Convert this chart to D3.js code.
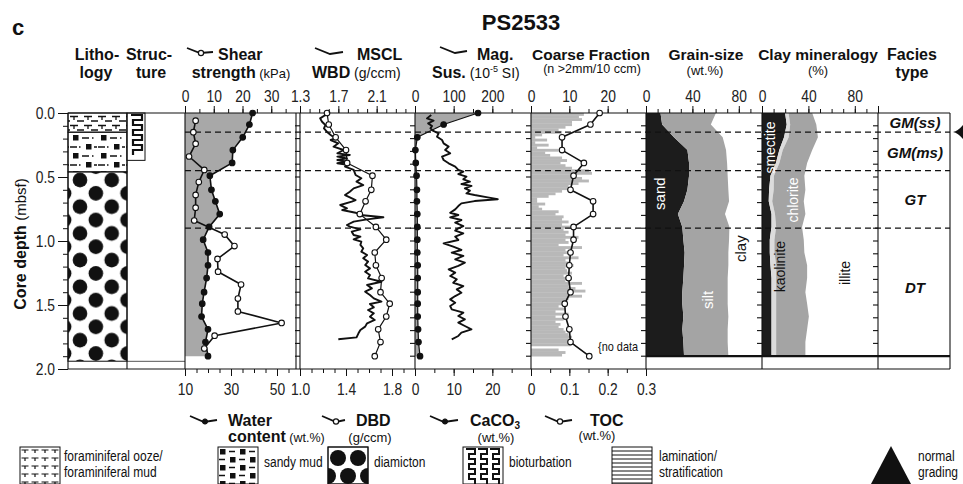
<!DOCTYPE html>
<html><head><meta charset="utf-8">
<script src="https://cdn.jsdelivr.net/npm/d3@7"></script>
<style>body{margin:0;background:#fff}svg{display:block}</style>
</head><body>
<svg id="c" width="963" height="484"></svg>
<script>
// ---------------- DATA ----------------
const sampleDepth = [0.00,0.09,0.19,0.29,0.39,0.49,0.60,0.69,0.79,0.89,0.99,1.09,1.19,1.29,1.40,1.49,1.59,1.69,1.79,1.90];
const waterContent = [39.4,38.0,35.1,30.8,30.5,20.8,21.5,23.2,25.1,20.5,17.9,20.0,20.0,19.4,18.3,17.5,17.2,20.0,18.9,20.0];
const dbd = [1.235,1.25,1.31,1.40,1.41,1.63,1.62,1.57,1.52,1.66,1.75,1.65,1.66,1.71,1.70,1.78,1.75,1.68,1.70,1.65];
const caco3 = [16.3,7.4,0.6,0.1,0.2,0.4,0.5,0.5,0.6,0.6,0.6,0.6,0.7,0.7,0.7,0.7,0.7,0.8,0.9,1.3];
const toc = [0.179,0.155,0.081,0.081,0.138,0.111,0.103,0.162,0.162,0.111,0.111,0.103,0.100,0.098,0.103,0.088,0.090,0.100,0.103,0.152];
const sand = [12.5,13.9,24.1,35.7,37.1,37.1,35.7,32.8,27.5,31.3,32.2,33.3,32.8,32.2,31.3,31.3,32.2,31.3,32.2,32.8];
const silt = [47.8,42.0,42.0,33.3,32.8,33.3,35.3,38.8,40.6,40.6,39.4,37.7,38.2,38.2,39.1,39.1,38.8,39.1,38.2,38.2];
const smectite = [19.9,21.3,19.0,14.9,12.0,7.3,6.1,5.8,8.2,8.2,6.7,6.7,7.3,8.2,8.2,8.2,8.2,8.2,8.2,8.2];
const kaolinite = [3,3,4,3,3,3,4,3,3,4,4,4,5,4,4,4,4,4,4,4];
const chlorite = [20.4,22.5,25.2,25.4,23.9,26.2,27.3,27.2,26.2,22.3,25.3,25.8,26.6,26.7,25.2,26.7,28.2,26.7,25.2,25.2];

const shearDepth = [0.06,0.15,0.24,0.34,0.445,0.54,0.64,0.74,0.84,0.95,1.04,1.14,1.24,1.34,1.45,1.55,1.64,1.74,1.84];
const shear = [3.7,2.9,3.7,1.4,6.7,4.8,3.7,3.7,3.2,13.8,17.2,11.3,11.5,19.5,18.4,18.4,33.6,10.3,6.7];

const wbdDepth = [0.016,0.042,0.068,0.094,0.120,0.146,0.172,0.198,0.211,0.237,0.263,0.289,0.315,0.328,0.341,0.354,0.367,0.380,0.393,0.406,0.419,0.445,0.484,0.510,0.536,0.563,0.589,0.615,0.641,0.659,0.680,0.693,0.719,0.745,0.758,0.779,0.797,0.815,0.831,0.849,0.875,0.888,0.909,0.927,0.953,0.966,0.987,1.005,1.031,1.057,1.083,1.109,1.135,1.161,1.188,1.214,1.240,1.266,1.292,1.318,1.344,1.370,1.396,1.422,1.448,1.474,1.492,1.518,1.539,1.565,1.591,1.617,1.643,1.669,1.695,1.721,1.753,1.768];
const wbd = [1.565,1.51,1.53,1.565,1.55,1.58,1.62,1.67,1.62,1.70,1.65,1.755,1.69,1.82,1.69,1.79,1.69,1.79,1.69,1.81,1.77,1.86,1.88,1.94,1.89,1.96,1.86,1.82,1.77,1.82,1.88,1.84,1.72,1.79,1.74,1.88,1.93,2.17,2.00,1.86,1.79,1.82,1.93,1.84,1.86,1.93,1.86,1.94,1.93,1.96,1.94,2.00,1.96,2.01,1.98,2.03,1.98,2.03,2.01,2.15,2.00,2.05,1.98,2.03,2.07,2.15,2.03,2.07,2.01,2.07,2.03,2.08,2.00,1.98,1.93,1.91,1.89,1.70];

const magDepth = [0.016,0.042,0.060,0.081,0.102,0.120,0.138,0.159,0.185,0.211,0.237,0.263,0.289,0.315,0.341,0.367,0.393,0.419,0.445,0.458,0.477,0.497,0.518,0.536,0.555,0.570,0.589,0.607,0.628,0.641,0.659,0.674,0.688,0.706,0.727,0.753,0.779,0.797,0.815,0.836,0.857,0.883,0.901,0.919,0.940,0.966,0.992,1.018,1.044,1.070,1.091,1.117,1.143,1.169,1.195,1.221,1.247,1.273,1.299,1.326,1.352,1.378,1.404,1.430,1.456,1.482,1.508,1.534,1.560,1.586,1.612,1.638,1.664,1.690,1.716,1.742,1.768];
const magSus = [42,31,48,34,44,40,46,61,57,70,74,87,78,91,70,74,87,104,112,125,112,133,125,142,120,146,129,142,133,154,188,214,154,120,112,104,91,112,91,120,104,125,112,104,125,104,112,74,99,120,95,125,104,129,112,87,104,91,108,99,125,108,120,104,91,104,91,95,125,112,129,112,129,146,120,112,95];

const coarseStep = 0.02;
const coarse = [13.8,12.5,13.3,10.7,10.7,9.0,7.2,8.1,2.9,1.1,
 4.2,1.1,4.6,1.6,7.2,3.7,5.0,8.1,9.4,7.7,
 9.0,10.7,15.1,15.9,11.6,13.3,15.1,12.4,9.8,10.7,
 8.1,6.4,4.6,1.6,1.6,3.7,2.0,2.9,7.2,6.4,
 8.5,8.1,9.8,8.1,10.7,8.5,9.8,9.0,12.4,9.0,
 9.8,7.2,13.3,9.0,11.1,8.5,12.4,9.0,9.8,11.1,
 9.0,9.4,10.7,8.5,10.7,9.0,13.3,9.8,11.6,14.2,
 10.7,13.3,9.8,9.0,8.5,7.2,9.0,6.4,9.8,6.4,
 8.5,6.4,7.7,7.2,8.5,9.0,9.8,10.7,9.8,9.4,
 10.3,0,7.2,9.0,8.1];

const lithoTop = [0.00,0.15,0.46];
const lithoBase = [0.15,0.46,1.94];
const lithoType = ["foram","sandymud","diamicton"];
const bioturbTop = 0.0, bioturbBase = 0.37;

const faciesBounds = [0.15,0.45,0.90];
const faciesNames = ["GM(ss)","GM(ms)","GT","DT"];
const faciesLabelDepth = [0.078,0.31,0.68,1.37];

const depthLabels = [0.0,0.5,1.0,1.5,2.0];

// ---------------- SETUP ----------------
const svg = d3.select("#c");
const SANS = '"Liberation Sans",Arial,Helvetica,sans-serif';
const NARROW = 0.84;
const NUMFS = 16.5;
const y = d3.scaleLinear().domain([0,2]).range([113,369]);
const edges = [185,300,415,531,646,762,878,950];

const xShear = d3.scaleLinear([0,40],[edges[0],edges[1]]);
const xWater = d3.scaleLinear([10,60],[edges[0],edges[1]]);
const xWBD = d3.scaleLinear([1.3,2.5],[edges[1],edges[2]]);
const xDBD = d3.scaleLinear([1.0,2.0],[edges[1],edges[2]]);
const xMag = d3.scaleLinear([0,300],[edges[2],edges[3]]);
const xCa = d3.scaleLinear([0,30],[edges[2],edges[3]]);
const xCoarse = d3.scaleLinear([0,30],[edges[3],edges[4]]);
const xTOC = d3.scaleLinear([0,0.3],[edges[3],edges[4]]);
const xGrain = d3.scaleLinear([0,100],[edges[4],edges[5]]);
const xClay = d3.scaleLinear([0,100],[edges[5],edges[6]]);

const defs = svg.append("defs");
const pf = defs.append("pattern").attr("id","foram").attr("patternUnits","userSpaceOnUse").attr("x",68).attr("y",114).attr("width",14).attr("height",9);
pf.append("path").attr("d","M2,2.5H10M6,2.5V6M9,7H14M0,7H2").attr("stroke","#111").attr("stroke-width",1.3).attr("fill","none");
const ps = defs.append("pattern").attr("id","sandymud").attr("patternUnits","userSpaceOnUse").attr("x",69).attr("y",133).attr("width",28).attr("height",18);
ps.append("rect").attr("x",4).attr("y",2).attr("width",5.5).attr("height",5.5).attr("fill","#111");
ps.append("rect").attr("x",17).attr("y",11).attr("width",5.5).attr("height",5.5).attr("fill","#111");
ps.append("path").attr("d","M13,5H20M23,5H24.5M1,14H8M10,14H11.5M25,14H28").attr("stroke","#111").attr("stroke-width",1.3);
const pd = defs.append("pattern").attr("id","diamicton").attr("patternUnits","userSpaceOnUse").attr("x",80).attr("y",180).attr("width",31.7).attr("height",26.7);
[[0,0],[31.7,0],[0,26.7],[31.7,26.7],[15.85,13.35]].forEach(c=>pd.append("circle").attr("cx",c[0]).attr("cy",c[1]).attr("r",7.3).attr("fill","#111"));
defs.append("clipPath").attr("id","diamClip").append("rect").attr("x",328).attr("y",447).attr("width",40).attr("height",37);

// ---------------- LITHOLOGY ----------------
lithoTop.forEach((t,i)=>{
  svg.append("rect").attr("x",68).attr("y",y(t)).attr("width",59).attr("height",y(lithoBase[i])-y(t))
    .attr("fill",`url(#${lithoType[i]})`).attr("stroke","#111").attr("stroke-width",1);
});
svg.append("rect").attr("x",127).attr("y",y(bioturbTop)).attr("width",18).attr("height",y(bioturbBase)-y(bioturbTop)).attr("fill","#fff").attr("stroke","#111");
{
  let p = `M131,${y(0)+2}`; let yy=y(0)+2; let right=true;
  while (yy < y(bioturbBase)-6){ p += right?"H142":"H133"; yy+=5; p += `V${yy}`; right=!right; }
  svg.append("path").attr("d",p).attr("fill","none").attr("stroke","#111").attr("stroke-width",2.2);
}
svg.append("line").attr("x1",68).attr("x2",185).attr("y1",y(1.94)).attr("y2",y(1.94)).attr("stroke","#555").attr("stroke-width",1);

// ---------------- FILLS ----------------
const area = d3.area().y(d=>d[2]).x0(d=>d[0]).x1(d=>d[1]);
svg.append("path").attr("d",area(sampleDepth.map((d,i)=>[edges[0],xWater(waterContent[i]),y(d)]))).attr("fill","#a8a8a8");
svg.append("path").attr("d",area(sampleDepth.map((d,i)=>[edges[2],xCa(caco3[i]),y(d)]))).attr("fill","#a8a8a8");
svg.append("g").selectAll("rect").data(coarse).join("rect")
  .attr("x",edges[3]).attr("y",(v,i)=>y(i*coarseStep)).attr("width",v=>xCoarse(v)-edges[3])
  .attr("height",(v,i)=>y((i+1)*coarseStep)-y(i*coarseStep)+0.3).attr("fill","#b8b8b8");

const gsum = sand.map((s,i)=>s+silt[i]);
svg.append("path").attr("d",area(sampleDepth.map((d,i)=>[xGrain(0),xGrain(sand[i]),y(d)]))).attr("fill","#1c1c1c");
svg.append("path").attr("d",area(sampleDepth.map((d,i)=>[xGrain(sand[i]),xGrain(gsum[i]),y(d)]))).attr("fill","#a4a4a4");
const c1 = smectite, c2 = smectite.map((s,i)=>s+kaolinite[i]), c3 = c2.map((s,i)=>s+chlorite[i]);
svg.append("path").attr("d",area(sampleDepth.map((d,i)=>[xClay(0),xClay(c1[i]),y(d)]))).attr("fill","#1c1c1c");
svg.append("path").attr("d",area(sampleDepth.map((d,i)=>[xClay(c1[i]),xClay(c2[i]),y(d)]))).attr("fill","#dcdcdc");
svg.append("path").attr("d",area(sampleDepth.map((d,i)=>[xClay(c2[i]),xClay(c3[i]),y(d)]))).attr("fill","#a4a4a4");

// ---------------- FRAMES ----------------
const fr = svg.append("g").attr("stroke","#111").attr("stroke-width",1.1).attr("fill","none");
fr.append("line").attr("x1",68).attr("x2",950).attr("y1",113).attr("y2",113);
fr.append("line").attr("x1",68).attr("x2",950).attr("y1",369).attr("y2",369);
[68,127,185,296,950].concat(edges.slice(1,7)).forEach(x=>fr.append("line").attr("x1",x).attr("x2",x).attr("y1",113).attr("y2",369));
const dTicks = d3.range(1,20).map(k=>k/10);
edges.slice(1,7).forEach(x=>{
  fr.append("g").selectAll("line").data(dTicks).join("line").attr("x1",x-5).attr("x2",x).attr("y1",d=>y(d)).attr("y2",d=>y(d));
});
svg.append("line").attr("x1",edges[4]).attr("x2",950).attr("y1",y(1.9)).attr("y2",y(1.9)).attr("stroke","#111").attr("stroke-width",2.2);

const ya = svg.append("g").attr("transform","translate(68,0)");
ya.call(d3.axisLeft(y).tickValues(d3.range(0,21).map(k=>k/10)).tickSize(5).tickFormat(""));
ya.append("g").call(d3.axisLeft(y).tickValues(depthLabels).tickSize(10).tickPadding(3).tickFormat(d3.format(".1f")));
ya.selectAll(".domain").remove();
ya.selectAll("line").attr("stroke","#111");
ya.selectAll("text").attr("font-family",SANS).attr("font-size",NUMFS).attr("fill","#222")
  .attr("x",-13/NARROW).attr("transform",`scale(${NARROW},1)`);

svg.append("g").selectAll("line").data(faciesBounds).join("line")
  .attr("x1",edges[0]).attr("x2",950).attr("y1",d=>y(d)).attr("y2",d=>y(d))
  .attr("stroke","#111").attr("stroke-width",1.2).attr("stroke-dasharray","6,4");

// ---------------- CURVES ----------------
function curve(xs, ds, vs, marker, w){
  const pts = ds.map((d,i)=>[xs(vs[i]),y(d)]);
  svg.append("path").attr("d",d3.line()(pts)).attr("fill","none").attr("stroke","#111").attr("stroke-width",w||1.6).attr("stroke-linejoin","round");
  if (marker) svg.append("g").selectAll("circle").data(pts).join("circle").attr("cx",p=>p[0]).attr("cy",p=>p[1]).attr("r",2.8)
    .attr("fill",marker==="open"?"#fff":"#111").attr("stroke","#111").attr("stroke-width",1.1);
}
curve(xWater, sampleDepth, waterContent, "filled");
curve(xShear, shearDepth, shear, "open");
curve(xWBD, wbdDepth, wbd, null, 1.9);
curve(xDBD, sampleDepth, dbd, "open", 1.2);
curve(xMag, magDepth, magSus, null, 1.9);
curve(xCa, sampleDepth, caco3, "filled", 1.2);
curve(xTOC, sampleDepth, toc, "open", 1.6);

// ---------------- AXES ----------------
function styleAxisText(g){
  g.selectAll(".domain").remove();
  g.selectAll("line").attr("stroke","#111");
  g.selectAll("text").attr("font-family",SANS).attr("font-size",NUMFS).attr("fill","#222").attr("transform",`scale(${NARROW},1)`);
}
function topAxis(scale, major, minor, fmt){
  const g = svg.append("g").attr("transform","translate(0,113)");
  g.append("g").call(d3.axisTop(scale).tickValues(minor).tickSize(4).tickFormat(""));
  g.append("g").call(d3.axisTop(scale).tickValues(major).tickSize(7).tickPadding(4.5).tickFormat(fmt));
  styleAxisText(g);
}
function botAxis(scale, major, minor, fmt){
  const g = svg.append("g").attr("transform","translate(0,369)");
  g.append("g").call(d3.axisBottom(scale).tickValues(minor).tickSize(4).tickFormat(""));
  g.append("g").call(d3.axisBottom(scale).tickValues(major).tickSize(7).tickPadding(7).tickFormat(fmt));
  styleAxisText(g);
}
const f0 = d3.format("d"), f1 = d3.format(".1f");
topAxis(xShear,[0,10,20,30],d3.range(0,40,5),f0);
topAxis(xWBD,[1.3,1.7,2.1],d3.range(13,25).map(k=>k/10),f1);
topAxis(xMag,[0,100,200],d3.range(0,300,50),f0);
topAxis(xCoarse,[0,10,20],d3.range(0,30,5),f0);
topAxis(xGrain,[0,40,80],d3.range(0,100,10),f0);
topAxis(xClay,[0,40,80,100],d3.range(0,100,10),v=>v===100?"":f0(v));
botAxis(xWater,[10,30,50],d3.range(10,60,5),f0);
botAxis(xDBD,[1.0,1.4,1.8],d3.range(10,20).map(k=>k/10),f1);
botAxis(xCa,[0,10,20],d3.range(0,30,5),f0);
botAxis(xTOC,[0,0.1,0.2,0.3],d3.range(0,6).map(k=>k*0.05),v=>v===0?"0":f1(v));

// ---------------- TEXT ----------------
function txt(x,yy,s,o){
  o = o||{};
  const t = svg.append("text").attr("font-family",SANS)
    .attr("font-size",o.fs||16).attr("font-weight",o.fw||"bold").attr("fill",o.fill||"#111")
    .attr("text-anchor",o.anchor||"middle");
  if (o.fst) t.attr("font-style",o.fst);
  let tr = `translate(${x},${yy})`;
  if (o.rot) tr += ` rotate(${o.rot})`;
  if (o.sx) tr += ` scale(${o.sx},1)`;
  t.attr("transform",tr);
  t.text(s); return t;
}
txt(12,35,"c",{fs:22,anchor:"start"});
txt(521,30,"PS2533",{fs:22});
txt(97,60,"Litho-"); txt(96,78,"logy");
txt(149,60,"Struc-"); txt(151,78,"ture");
txt(218,60,"Shear",{anchor:"start"});
{ const t=txt(241,78,"strength"); t.append("tspan").attr("font-weight","normal").attr("font-size",13).text(" (kPa)"); }
txt(357,60,"MSCL",{anchor:"start"});
{ const t=txt(312,78,"WBD",{anchor:"start"}); t.append("tspan").attr("font-weight","normal").attr("font-size",14).text(" (g/ccm)"); }
txt(477,60,"Mag.",{anchor:"start"});
{ const t=txt(432,78,"Sus.",{anchor:"start"}); t.append("tspan").attr("font-weight","normal").attr("font-size",14).text(" (10");
  t.append("tspan").attr("font-weight","normal").attr("font-size",9).attr("dy",-6).text("-5");
  t.append("tspan").attr("font-weight","normal").attr("font-size",14).attr("dy",6).text(" SI)"); }
txt(591,60,"Coarse Fraction",{fs:15.5});
txt(592,73,"(n >2mm/10 ccm)",{fs:12.5,fw:"normal"});
txt(706,60,"Grain-size",{fs:15.5});
txt(705,75,"(wt.%)",{fs:13,fw:"normal"});
txt(818,60,"Clay mineralogy",{fs:15.5});
txt(818,75,"(%)",{fs:13,fw:"normal"});
txt(912,60,"Facies"); txt(912,78,"type");
const ic = svg.append("g").attr("stroke","#111").attr("stroke-width",1.8).attr("fill","none");
ic.append("path").attr("d","M187,48 L200,53 L213,52");
ic.append("circle").attr("cx",201).attr("cy",53).attr("r",2.6).attr("fill","#fff").attr("stroke-width",1.2);
ic.append("path").attr("d","M315,48 L330,54 L343,52");
ic.append("path").attr("d","M440,47 L455,53 L467,51");
ic.append("path").attr("d","M190,416 L204,422 L217,420");
ic.append("circle").attr("cx",205).attr("cy",421.5).attr("r",2.6).attr("fill","#111").attr("stroke-width",1);
ic.append("path").attr("d","M322,416 L336,422 L345,420");
ic.append("circle").attr("cx",336).attr("cy",421.5).attr("r",2.6).attr("fill","#fff").attr("stroke-width",1.2);
ic.append("path").attr("d","M430,416 L444,422 L458,420");
ic.append("circle").attr("cx",445).attr("cy",421.5).attr("r",2.6).attr("fill","#111").attr("stroke-width",1);
ic.append("path").attr("d","M545,416 L559,422 L572,420");
ic.append("circle").attr("cx",560).attr("cy",421.5).attr("r",2.6).attr("fill","#fff").attr("stroke-width",1.2);
txt(228,426,"Water",{anchor:"start"});
{ const t=txt(228,442,"content",{anchor:"start"}); t.append("tspan").attr("font-weight","normal").attr("font-size",12.5).text(" (wt.%)"); }
txt(356,426,"DBD",{anchor:"start"});
txt(370,442,"(g/ccm)",{fs:13,fw:"normal"});
{ const t=txt(470,426,"CaCO",{anchor:"start"}); t.append("tspan").attr("font-size",10).attr("dy",3).text("3"); }
txt(496,442,"(wt.%)",{fs:13,fw:"normal"});
txt(590,426,"TOC",{anchor:"start"});
txt(597,440,"(wt.%)",{fs:13,fw:"normal"});

txt(598,351,"{no data",{fs:13,fw:"normal",anchor:"start",sx:NARROW});
txt(665,y(0.63),"sand",{fs:15,fw:"normal",fill:"#fff",rot:-90});
txt(713,y(1.46),"silt",{fs:15,fw:"normal",fill:"#fff",rot:-90});
txt(746,y(1.06),"clay",{fs:15,fw:"normal",fill:"#111",rot:-90});
txt(775,y(0.27),"smectite",{fs:14,fw:"normal",fill:"#fff",rot:-90});
txt(798,y(0.68),"chlorite",{fs:14,fw:"normal",fill:"#fff",rot:-90});
txt(785,y(1.2),"kaolinite",{fs:14,fw:"normal",fill:"#111",rot:-90});
txt(850,y(1.25),"illite",{fs:14,fw:"normal",fill:"#111",rot:-90});
faciesNames.forEach((n,i)=>txt(915,y(faciesLabelDepth[i])+5,n,{fs:15,fst:"italic"}));
{ const t=txt(26,244,"Core depth ",{rot:-90}); t.append("tspan").attr("font-weight","normal").attr("font-size",15).text("(mbsf)"); }
svg.append("path").attr("d","M953,132 Q958,131 963,125 L963,139 Q958,133 953,132 Z").attr("fill","#111");

// ---------------- LEGEND ----------------
const lg = svg.append("g");
const LF = {fw:"normal",fs:15,anchor:"start",sx:0.8};
function box(x,yy,w,h){ return lg.append("rect").attr("x",x).attr("y",yy).attr("width",w).attr("height",h).attr("fill","#fff").attr("stroke","#111"); }
const pf2 = defs.append("pattern").attr("id","foramL").attr("patternUnits","userSpaceOnUse").attr("x",20).attr("y",447).attr("width",10).attr("height",8);
pf2.append("path").attr("d","M1.5,3H8.5M5,3V6").attr("stroke","#111").attr("stroke-width",1.2);
box(20,447,40,37).attr("fill","url(#foramL)");
txt(64,461,"foraminiferal ooze/",LF);
txt(64,477,"foraminiferal mud",LF);
const ps2 = defs.append("pattern").attr("id","sandyL").attr("patternUnits","userSpaceOnUse").attr("x",218).attr("y",447).attr("width",20).attr("height",16);
ps2.append("rect").attr("x",2).attr("y",2).attr("width",5.5).attr("height",5.5).attr("fill","#111");
ps2.append("rect").attr("x",12).attr("y",10).attr("width",5.5).attr("height",5.5).attr("fill","#111");
ps2.append("path").attr("d","M11,4.5H17M1,12.5H7").attr("stroke","#111").attr("stroke-width",1.3);
box(218,447,40,37).attr("fill","url(#sandyL)");
txt(264,467,"sandy mud",LF);
box(328,447,40,37);
lg.append("g").attr("clip-path","url(#diamClip)").selectAll("circle")
  .data([[338,458],[358,458],[348,476],[328,476],[368,476]]).join("circle")
  .attr("cx",c=>c[0]).attr("cy",c=>c[1]).attr("r",8).attr("fill","#111");
box(328,447,40,37).attr("fill","none");
txt(374,467,"diamicton",LF);
box(463,447,40,37);
[466,478,490].forEach(x0=>{ let p=`M${x0},449`; let yy=449; let r=true; while(yy<480){ p+= r?`H${x0+9}`:`H${x0+3}`; yy+=5; p+=`V${yy}`; r=!r;} lg.append("path").attr("d",p).attr("fill","none").attr("stroke","#111").attr("stroke-width",2); });
txt(509,467,"bioturbation",LF);
box(612,447,40,37);
d3.range(451,484,4).forEach(yy=>lg.append("line").attr("x1",612).attr("x2",652).attr("y1",yy).attr("y2",yy).attr("stroke","#111"));
txt(659,461,"lamination/",LF);
txt(659,477,"stratification",LF);
lg.append("path").attr("d","M871,484 L891,446 L911,484 Z").attr("fill","#111");
txt(918,461,"normal",LF);
txt(918,477,"grading",LF);
</script>
</body></html>
